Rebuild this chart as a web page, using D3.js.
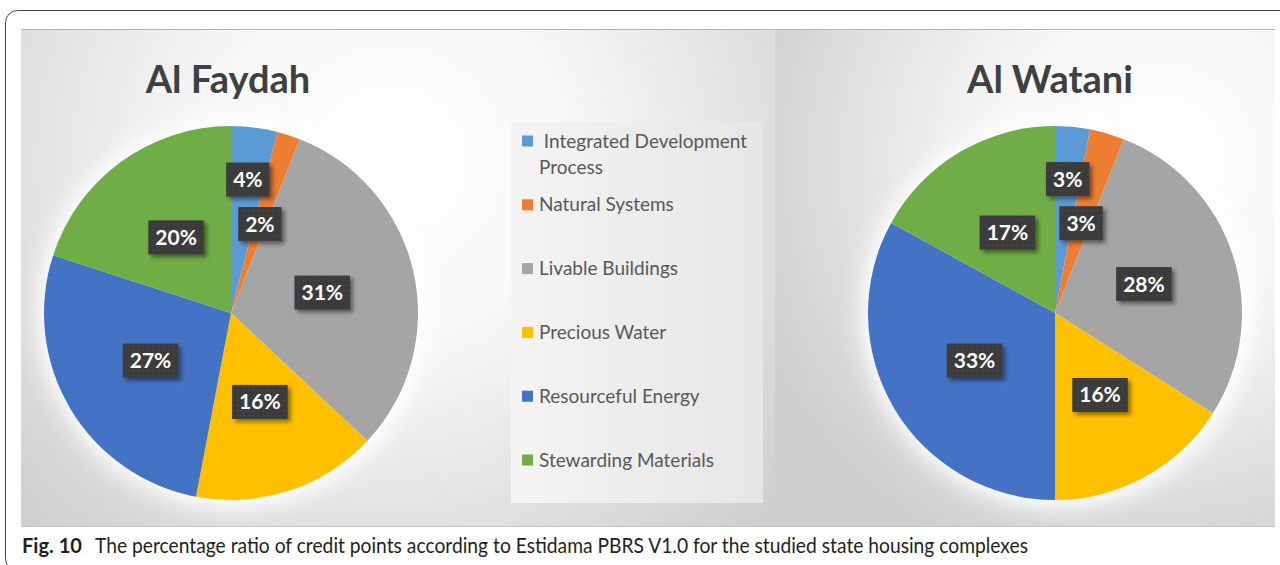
<!DOCTYPE html>
<html>
<head>
<meta charset="utf-8">
<script src="https://cdn.jsdelivr.net/npm/d3@7"></script>
<style>
  html, body { margin: 0; padding: 0; background: #fff; }
  svg { display: block; }
</style>
</head>
<body>
<div id="chart"></div>
<script>
// data
let categories = [" Integrated Development Process", "Natural Systems", "Livable Buildings",
    "Precious Water", "Resourceful Energy", "Stewarding Materials"];
let faydahValues = [4, 2, 31, 16, 27, 20];
let wataniValues = [3, 3, 28, 16, 33, 17];
let pieTitles = ["Al Faydah", "Al Watani"];
let captionLabel = "Fig. 10";
let captionText = "The percentage ratio of credit points according to Estidama PBRS V1.0 for the studied state housing complexes";

let width = 1280,
    height = 565;
let radius = 187;

let color = d3.scaleOrdinal()
    .domain(categories)
    .range(['#5b9bd5', '#ed7d31', '#a5a5a5', '#ffc000', '#4472c4', '#70ad47']);

let svg = d3.select("#chart")
    .append("svg")
    .attr("width", width)
    .attr("height", height);

let defs = svg.append("defs");

// panel backgrounds
function radial(id, cx, cy, r) {
    let g = defs.append("radialGradient")
        .attr("id", id)
        .attr("gradientUnits", "userSpaceOnUse")
        .attr("cx", cx).attr("cy", cy).attr("r", r);
    g.append("stop").attr("offset", 0).attr("stop-color", "#ffffff");
    g.append("stop").attr("offset", 0.35).attr("stop-color", "#f8f8f8");
    g.append("stop").attr("offset", 1).attr("stop-color", "#cecece");
}
radial("bgLeft", 390, 160, 520);
radial("bgRight", 1160, 160, 440);

let lg = defs.append("linearGradient").attr("id", "legendBg")
    .attr("x1", 0).attr("x2", 1).attr("y1", 0).attr("y2", 0);
lg.append("stop").attr("offset", 0).attr("stop-color", "#f4f4f4");
lg.append("stop").attr("offset", 1).attr("stop-color", "#e6e6e6");

// dotted dark box for the data labels
let pat = defs.append("pattern")
    .attr("id", "dots")
    .attr("width", 5).attr("height", 5)
    .attr("patternUnits", "userSpaceOnUse");
pat.append("rect").attr("width", 5).attr("height", 5).attr("fill", "#3a3a3a");
pat.append("circle").attr("cx", 2.5).attr("cy", 2.5).attr("r", 0.7).attr("fill", "#4d4d4d");

let shadow = defs.append("filter").attr("id", "shadow")
    .attr("x", "-30%").attr("y", "-30%").attr("width", "160%").attr("height", "160%");
shadow.append("feDropShadow")
    .attr("dx", 3).attr("dy", 3).attr("stdDeviation", 2)
    .attr("flood-color", "#000").attr("flood-opacity", 0.45);

let glow = defs.append("filter").attr("id", "glow")
    .attr("x", "-30%").attr("y", "-30%").attr("width", "160%").attr("height", "160%");
glow.append("feGaussianBlur").attr("stdDeviation", 11);

// outer frame of the figure
svg.append("rect")
    .attr("x", 5.5).attr("y", 10.5)
    .attr("width", 1290).attr("height", 560)
    .attr("rx", 12)
    .attr("fill", "none")
    .attr("stroke", "#444")
    .attr("stroke-width", 1);

svg.append("rect")
    .attr("x", 21).attr("y", 29).attr("width", 754).attr("height", 497)
    .attr("fill", "url(#bgLeft)");
svg.append("rect")
    .attr("x", 775).attr("y", 29).attr("width", 500).attr("height", 497)
    .attr("fill", "url(#bgRight)");
svg.append("line")
    .attr("x1", 21).attr("x2", 1275).attr("y1", 29.5).attr("y2", 29.5)
    .style("stroke", "#b4b4b4");
svg.append("line")
    .attr("x1", 21).attr("x2", 1275).attr("y1", 526.5).attr("y2", 526.5)
    .style("stroke", "#c4c4c4");

let pie = d3.pie().sort(null).value(d => d);
let arc = d3.arc().innerRadius(0).outerRadius(radius);

function drawPie(values, title, cx, cy, titleX) {
    svg.append("text")
        .attr("x", titleX)
        .attr("y", 93)
        .attr("text-anchor", "middle")
        .style("font-family", "Lato")
        .style("font-weight", "bold")
        .style("font-size", "38px")
        .style("fill", "#404040")
        .text(title);

    let g = svg.append("g")
        .attr("transform", "translate(" + cx + "," + cy + ")");

    g.append("circle")
        .attr("r", radius + 8)
        .attr("cx", 2).attr("cy", 0)
        .attr("fill", "#ffffff")
        .attr("filter", "url(#glow)");

    let arcs = pie(values);
    g.selectAll("path.slice")
        .data(arcs)
        .enter()
        .append("path")
        .attr("class", "slice")
        .attr("d", arc)
        .attr("fill", (d, i) => color(categories[i]));

    // labels: start at half radius, push earlier labels outwards on overlap
    let placed = [];
    for (let i = arcs.length - 1; i >= 0; i--) {
        let d = arcs[i];
        let lab = g.append("g").attr("class", "lbl");
        let box = lab.append("rect")
            .attr("fill", "url(#dots)")
            .attr("filter", "url(#shadow)");
        let t = lab.append("text")
            .attr("text-anchor", "middle")
            .attr("dy", "0.36em")
            .style("font-family", "Lato")
            .style("font-weight", "bold")
            .style("font-size", "21px")
            .style("fill", "#ffffff")
            .text(d.data + "%");
        let w = t.node().getComputedTextLength() + 14,
            h = 34;
        let mid = (d.startAngle + d.endAngle) / 2;
        let dist = radius / 2;
        let px, py;
        while (true) {
            px = Math.sin(mid) * dist;
            py = -Math.cos(mid) * dist;
            let hit = placed.some(p =>
                Math.abs(p.x - px) < (p.w + w) / 2 + 10 &&
                Math.abs(p.y - py) < (p.h + h) / 2 + 10);
            if (!hit || dist > radius) break;
            dist += 1;
        }
        placed.push({ x: px, y: py, w: w, h: h });
        box.attr("x", px - w / 2).attr("y", py - h / 2)
            .attr("width", w).attr("height", h);
        t.attr("x", px).attr("y", py);
    }
}

drawPie(faydahValues, pieTitles[0], 231, 313, 228);
drawPie(wataniValues, pieTitles[1], 1055, 313, 1050);

// legend
svg.append("rect")
    .attr("x", 511).attr("y", 122)
    .attr("width", 252).attr("height", 381)
    .attr("fill", "url(#legendBg)");

let legendY = d3.scalePoint()
    .domain(categories)
    .range([141, 460]);

let legend = svg.selectAll("g.legend")
    .data(categories)
    .enter()
    .append("g")
    .attr("class", "legend")
    .attr("transform", d => "translate(522," + legendY(d) + ")");

legend.append("rect")
    .attr("x", 0).attr("y", -5.5)
    .attr("width", 11).attr("height", 11)
    .attr("fill", d => color(d));

legend.append("text")
    .attr("x", 17)
    .attr("dy", "0.35em")
    .style("font-family", "Lato")
    .style("font-size", "19px")
    .style("fill", "#595959")
    .style("white-space", "pre")
    .each(function (d) {
        // wrap long names onto a second line
        let el = d3.select(this);
        let words = d.split(" ");
        let line = [];
        let tspan = el.append("tspan").attr("x", 17);
        words.forEach(word => {
            line.push(word);
            tspan.text(line.join(" "));
            if (tspan.node().getComputedTextLength() > 215 && line.length > 1) {
                line.pop();
                tspan.text(line.join(" "));
                line = [word];
                tspan = el.append("tspan")
                    .attr("x", 17)
                    .attr("dy", "26px")
                    .text(word);
            }
        });
    });

// caption
svg.append("text")
    .attr("x", 22)
    .attr("y", 553)
    .attr("textLength", 60)
    .attr("lengthAdjust", "spacingAndGlyphs")
    .style("font-family", "Lato")
    .style("font-weight", "bold")
    .style("font-size", "20.5px")
    .style("fill", "#231f20")
    .text(captionLabel);

svg.append("text")
    .attr("x", 95)
    .attr("y", 553)
    .attr("textLength", 933)
    .attr("lengthAdjust", "spacingAndGlyphs")
    .style("font-family", "Lato")
    .style("font-size", "20.5px")
    .style("fill", "#231f20")
    .text(captionText);
</script>
</body>
</html>
